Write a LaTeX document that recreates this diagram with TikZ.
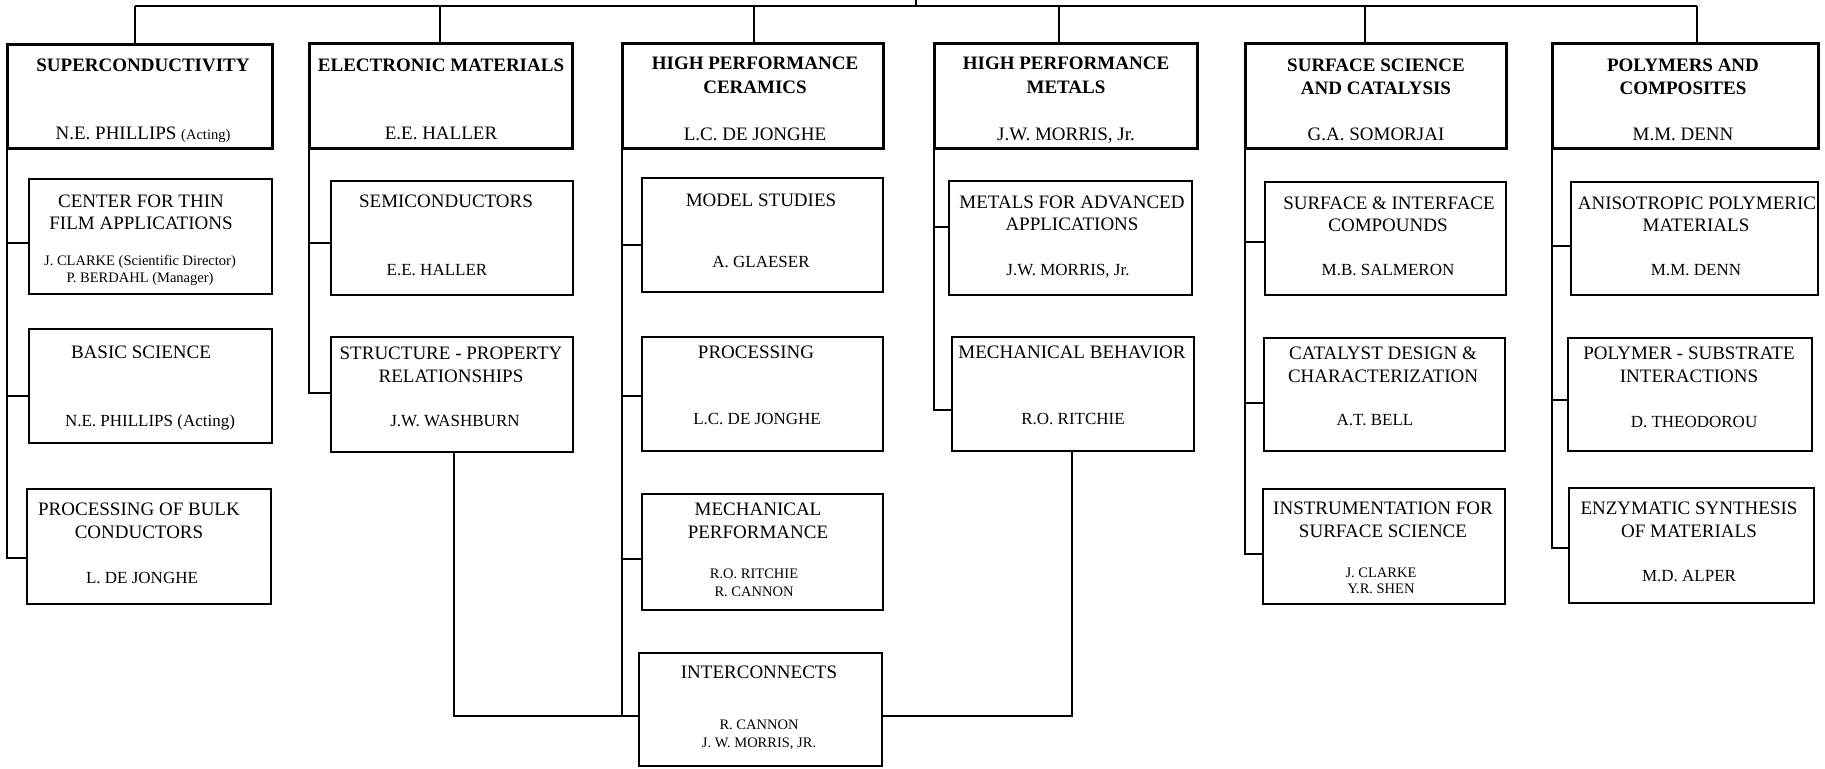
\documentclass[tikz,border=0pt]{standalone}
\usepackage{fontspec}
\setmainfont{Liberation Serif}
\newcommand\bx[6]{\node[#1, minimum width={(#5-#3)*1pt}, minimum height={(#6-#4)*1pt}] (#2) at ({(#3+#5)/2},{(#4+#6)/2}) {};}
\newcommand\tx[5]{\node[#1] (#2) at (#3,#4) {#5};}
\tikzset{
 headbox/.style={draw, line width=3pt, inner sep=0pt, outer sep=0pt},
 subbox/.style={draw, line width=1.5pt, inner sep=0pt, outer sep=0pt},
 conn/.style={line width=1.5pt},
 ht/.style={font=\fontsize{19}{22}\selectfont\bfseries, anchor=base, inner sep=0pt},
 hn/.style={font=\fontsize{19}{22}\selectfont, anchor=base, inner sep=0pt},
 st/.style={font=\fontsize{19}{22}\selectfont, anchor=base, inner sep=0pt},
 sn/.style={font=\fontsize{17}{20}\selectfont, anchor=base, inner sep=0pt},
 sm/.style={font=\fontsize{14.5}{17}\selectfont, anchor=base, inner sep=0pt},
}
\begin{document}
\begin{tikzpicture}[x=1pt,y=-1pt]
\useasboundingbox[fill=white] (0,0) rectangle (1825,768);
% head boxes
\bx{headbox}{h1}{7}{45}{272}{148}
\bx{headbox}{h2}{309}{44}{572}{148}
\bx{headbox}{h3}{622}{44}{883}{148}
\bx{headbox}{h4}{934}{44}{1197}{148}
\bx{headbox}{h5}{1245}{44}{1506}{148}
\bx{headbox}{h6}{1552}{44}{1818}{148}
% sub boxes
\bx{subbox}{s11}{29}{179}{272}{294}
\bx{subbox}{s12}{29}{329}{272}{443}
\bx{subbox}{s13}{27}{489}{271}{604}
\bx{subbox}{s21}{331}{181}{573}{295}
\bx{subbox}{s22}{331}{337}{573}{452}
\bx{subbox}{s31}{642}{178}{883}{292}
\bx{subbox}{s32}{642}{337}{883}{451}
\bx{subbox}{s33}{642}{494}{883}{610}
\bx{subbox}{s34}{639}{653}{882}{766}
\bx{subbox}{s41}{949}{181}{1192}{295}
\bx{subbox}{s42}{952}{337}{1194}{451}
\bx{subbox}{s51}{1265}{182}{1506}{295}
\bx{subbox}{s52}{1264}{338}{1505}{451}
\bx{subbox}{s53}{1263}{489}{1505}{604}
\bx{subbox}{s61}{1571}{182}{1818}{295}
\bx{subbox}{s62}{1568}{338}{1812}{451}
\bx{subbox}{s63}{1569}{488}{1814}{603}
% head texts
\tx{ht}{h1a}{143}{71}{SUPERCONDUCTIVITY}
\tx{hn}{h1n}{143}{139}{N.E. PHILLIPS {\fontsize{14.5}{17}\selectfont(Acting)}}
\tx{ht}{h2a}{441}{71}{ELECTRONIC MATERIALS}
\tx{hn}{h2n}{441}{139}{E.E. HALLER}
\tx{ht}{h3a}{755}{70}{HIGH PERFORMANCE}
\tx{ht}{h3b}{755}{93}{CERAMICS}
\tx{hn}{h3n}{755}{140}{L.C. DE JONGHE}
\tx{ht}{h4a}{1066}{70}{HIGH PERFORMANCE}
\tx{ht}{h4b}{1066}{93}{METALS}
\tx{hn}{h4n}{1066}{140}{J.W. MORRIS, Jr.}
\tx{ht}{h5a}{1376}{71}{SURFACE SCIENCE}
\tx{ht}{h5b}{1376}{94}{AND CATALYSIS}
\tx{hn}{h5n}{1376}{140}{G.A. SOMORJAI}
\tx{ht}{h6a}{1683}{71}{POLYMERS AND}
\tx{ht}{h6b}{1683}{94}{COMPOSITES}
\tx{hn}{h6n}{1683}{140}{M.M. DENN}
% sub texts
\tx{st}{s11a}{141}{207}{CENTER FOR THIN}
\tx{st}{s11b}{141}{229}{FILM APPLICATIONS}
\tx{sm}{s11n}{140}{265}{J. CLARKE (Scientific Director)}
\tx{sm}{s11m}{140}{282}{P. BERDAHL (Manager)}
\tx{st}{s12a}{141}{358}{BASIC SCIENCE}
\tx{sn}{s12n}{150}{426}{N.E. PHILLIPS (Acting)}
\tx{st}{s13a}{139}{515}{PROCESSING OF BULK}
\tx{st}{s13b}{139}{538}{CONDUCTORS}
\tx{sn}{s13n}{142}{583}{L. DE JONGHE}
\tx{st}{s21a}{446}{207}{SEMICONDUCTORS}
\tx{sn}{s21n}{437}{275}{E.E. HALLER}
\tx{st}{s22a}{451}{359}{STRUCTURE - PROPERTY}
\tx{st}{s22b}{451}{382}{RELATIONSHIPS}
\tx{sn}{s22n}{455}{426}{J.W. WASHBURN}
\tx{st}{s31a}{761}{206}{MODEL STUDIES}
\tx{sn}{s31n}{761}{267}{A. GLAESER}
\tx{st}{s32a}{756}{358}{PROCESSING}
\tx{sn}{s32n}{757}{424}{L.C. DE JONGHE}
\tx{st}{s33a}{758}{515}{MECHANICAL}
\tx{st}{s33b}{758}{538}{PERFORMANCE}
\tx{sm}{s33n}{754}{578}{R.O. RITCHIE}
\tx{sm}{s33m}{754}{596}{R. CANNON}
\tx{st}{s34a}{759}{678}{INTERCONNECTS}
\tx{sm}{s34n}{759}{729}{R. CANNON}
\tx{sm}{s34m}{759}{747}{J. W. MORRIS, JR.}
\tx{st}{s41a}{1072}{208}{METALS FOR ADVANCED}
\tx{st}{s41b}{1072}{230}{APPLICATIONS}
\tx{sn}{s41n}{1068}{275}{J.W. MORRIS, Jr.}
\tx{st}{s42a}{1072}{358}{MECHANICAL BEHAVIOR}
\tx{sn}{s42n}{1073}{424}{R.O. RITCHIE}
\tx{st}{s51a}{1389}{209}{SURFACE \& INTERFACE}
\tx{st}{s51b}{1388}{231}{COMPOUNDS}
\tx{sn}{s51n}{1388}{275}{M.B. SALMERON}
\tx{st}{s52a}{1383}{359}{CATALYST DESIGN \&}
\tx{st}{s52b}{1383}{382}{CHARACTERIZATION}
\tx{sn}{s52n}{1375}{425}{A.T. BELL}
\tx{st}{s53a}{1383}{514}{INSTRUMENTATION FOR}
\tx{st}{s53b}{1383}{537}{SURFACE SCIENCE}
\tx{sm}{s53n}{1381}{577}{J. CLARKE}
\tx{sm}{s53m}{1381}{593}{Y.R. SHEN}
\tx{st}{s61a}{1697}{209}{ANISOTROPIC POLYMERIC}
\tx{st}{s61b}{1696}{231}{MATERIALS}
\tx{sn}{s61n}{1696}{275}{M.M. DENN}
\tx{st}{s62a}{1689}{359}{POLYMER - SUBSTRATE}
\tx{st}{s62b}{1689}{382}{INTERACTIONS}
\tx{sn}{s62n}{1694}{427}{D. THEODOROU}
\tx{st}{s63a}{1689}{514}{ENZYMATIC SYNTHESIS}
\tx{st}{s63b}{1689}{537}{OF MATERIALS}
\tx{sn}{s63n}{1689}{581}{M.D. ALPER}
% top bus
\coordinate (root) at (916,0);
\coordinate (bus) at (916,6);
\coordinate (d1) at (135,6);
\coordinate (d2) at (440,6);
\coordinate (d3) at (754,6);
\coordinate (d4) at (1059,6);
\coordinate (d5) at (1365,6);
\coordinate (d6) at (1697,6);
\draw[conn] (root) -- (bus);
\draw[conn] (d1) -- (d6);
\foreach \i in {1,...,6} { \draw[conn] (d\i) -- (d\i |- h\i.north); }
% branch points
\coordinate (b11) at (7,243);
\coordinate (b12) at (7,396);
\coordinate (b13) at (7,558);
\coordinate (b21) at (309,243);
\coordinate (b22) at (309,393);
\coordinate (b31) at (622,245);
\coordinate (b32) at (622,396);
\coordinate (b33) at (622,559);
\coordinate (b34) at (622,716);
\coordinate (b41) at (934,227);
\coordinate (b42) at (934,410);
\coordinate (b51) at (1245,242);
\coordinate (b52) at (1245,403);
\coordinate (b53) at (1245,554);
\coordinate (b61) at (1552,246);
\coordinate (b62) at (1552,400);
\coordinate (b63) at (1552,548);
\draw[conn] (h1.south west) -- (b13) -- (b13 -| s13.west);
\draw[conn] (b11) -- (b11 -| s11.west);
\draw[conn] (b12) -- (b12 -| s12.west);
\draw[conn] (h2.south west) -- (b22) -- (b22 -| s22.west);
\draw[conn] (b21) -- (b21 -| s21.west);
\draw[conn] (h3.south west) -- (b34) -- (b34 -| s34.west);
\draw[conn] (b31) -- (b31 -| s31.west);
\draw[conn] (b32) -- (b32 -| s32.west);
\draw[conn] (b33) -- (b33 -| s33.west);
\draw[conn] (h4.south west) -- (b42) -- (b42 -| s42.west);
\draw[conn] (b41) -- (b41 -| s41.west);
\draw[conn] (h5.south west) -- (b53) -- (b53 -| s53.west);
\draw[conn] (b51) -- (b51 -| s51.west);
\draw[conn] (b52) -- (b52 -| s52.west);
\draw[conn] (h6.south west) -- (b63) -- (b63 -| s63.west);
\draw[conn] (b61) -- (b61 -| s61.west);
\draw[conn] (b62) -- (b62 -| s62.west);
% links to interconnects
\coordinate (j1) at (454,716);
\coordinate (j2) at (1072,716);
\draw[conn] (j1 |- s22.south) -- (j1) -- (j1 -| s34.west);
\draw[conn] (j2 |- s42.south) -- (j2) -- (j2 -| s34.east);
\end{tikzpicture}
\end{document}
